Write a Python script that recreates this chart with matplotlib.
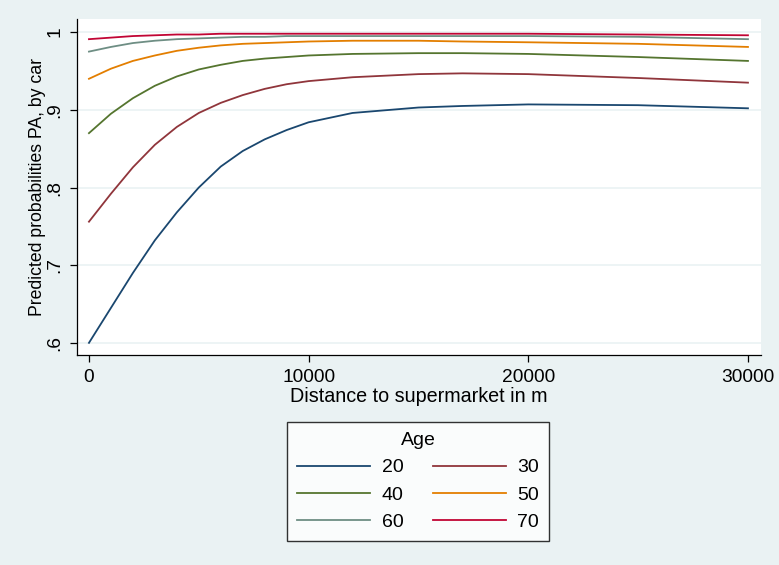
import numpy as np
from matplotlib import pyplot as plt

plt.rcParams['font.family'] = ['Liberation Sans', 'DejaVu Sans']

# distance to supermarket (m)
distance = [0, 1000, 2000, 3000, 4000, 5000, 6000, 7000, 8000, 9000, 10000,
            12000, 15000, 17000, 20000, 25000, 30000]

ages = ['20', '30', '40', '50', '60', '70']

p20 = [0.600, 0.645, 0.690, 0.732, 0.768, 0.800, 0.827, 0.847, 0.862, 0.874, 0.884,
       0.896, 0.903, 0.905, 0.907, 0.906, 0.902]
p30 = [0.756, 0.792, 0.826, 0.855, 0.878, 0.896, 0.909, 0.919, 0.927, 0.933, 0.937,
       0.942, 0.946, 0.947, 0.946, 0.941, 0.935]
p40 = [0.870, 0.895, 0.915, 0.931, 0.943, 0.952, 0.958, 0.963, 0.966, 0.968, 0.970,
       0.972, 0.973, 0.973, 0.972, 0.968, 0.963]
p50 = [0.940, 0.953, 0.963, 0.970, 0.976, 0.980, 0.983, 0.985, 0.986, 0.987, 0.988,
       0.989, 0.989, 0.988, 0.987, 0.985, 0.981]
p60 = [0.975, 0.981, 0.986, 0.989, 0.991, 0.992, 0.993, 0.994, 0.994, 0.995, 0.995,
       0.995, 0.995, 0.995, 0.995, 0.994, 0.991]
p70 = [0.991, 0.993, 0.995, 0.996, 0.997, 0.997, 0.998, 0.998, 0.998, 0.998, 0.998,
       0.998, 0.998, 0.998, 0.998, 0.997, 0.996]

series = [p20, p30, p40, p50, p60, p70]
colors = ['#1a476f', '#90353b', '#55752f', '#e37e00', '#6e8e84', '#c10534']

bg = '#eaf2f3'

fig = plt.figure(figsize=(7.79, 5.65), dpi=100, facecolor=bg)
ax = fig.add_axes([0.0988, 0.372, 0.878, 0.594])
ax.set_facecolor('white')

lines = []
for ys, c, a in zip(series, colors, ages):
	ln, = ax.plot(distance, ys, color=c, lw=1.3, label=a)
	lines.append(ln)

ax.set_xlim(-546, 30590)
ax.set_ylim(0.5846, 1.0167)
ax.set_xticks([0, 10000, 20000, 30000])
ax.set_yticks([0.6, 0.7, 0.8, 0.9, 1.0])
ax.set_yticklabels(['.6', '.7', '.8', '.9', '1'], rotation=90, va='center')
ax.grid(axis='y', color=bg, lw=1.2)
ax.set_axisbelow(True)

for s in ['top', 'right']:
	ax.spines[s].set_visible(False)
for s in ['left', 'bottom']:
	ax.spines[s].set_color('black')
	ax.spines[s].set_linewidth(0.9)

ax.tick_params(labelsize=13.8, length=5, width=0.9, color='black', pad=5)
ax.set_xlabel('Distance to supermarket in m', fontsize=14.2, labelpad=1)
ax.set_ylabel('Predicted probabilities PA, by car', fontsize=12.7, labelpad=0)

# legend filled row by row like the original
order = [0, 2, 4, 1, 3, 5]
leg = fig.legend([lines[i] for i in order], [ages[i] for i in order],
	loc='center', bbox_to_anchor=(418/779, 1 - 481.5/565), ncol=2,
	title='Age', fontsize=14, title_fontsize=14, frameon=True, fancybox=False,
	edgecolor='black', handlelength=3.75, handletextpad=0.6, columnspacing=1.5,
	labelspacing=0.5, borderpad=0.5)
leg.get_frame().set_linewidth(1.0)
leg.get_frame().set_facecolor('white')

fig.savefig('out.png', dpi=100, facecolor=bg)
